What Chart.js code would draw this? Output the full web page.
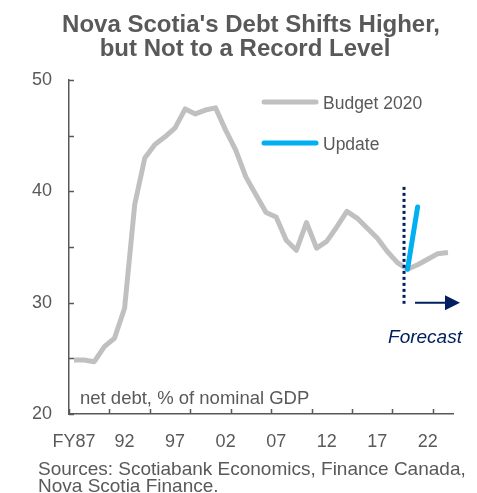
<!DOCTYPE html>
<html>
<head>
<meta charset="utf-8">
<script src="https://cdn.jsdelivr.net/npm/chart.js@4/dist/chart.umd.min.js"></script>
<style>
  html, body { margin: 0; padding: 0; background: #fff; }
  canvas { display: block; }
</style>
</head>
<body>
<canvas id="debtChart" width="477" height="493"></canvas>
<script>
// Fiscal years on the category axis
const fiscalYears = [
  'FY87', 'FY88', 'FY89', 'FY90', 'FY91', 'FY92', 'FY93', 'FY94', 'FY95', 'FY96',
  'FY97', 'FY98', 'FY99', 'FY00', 'FY01', 'FY02', 'FY03', 'FY04', 'FY05', 'FY06',
  'FY07', 'FY08', 'FY09', 'FY10', 'FY11', 'FY12', 'FY13', 'FY14', 'FY15', 'FY16',
  'FY17', 'FY18', 'FY19', 'FY20', 'FY21', 'FY22', 'FY23', 'FY24'
];

// Net debt, % of nominal GDP
const budget2020 = [
  24.85, 24.85, 24.7, 26.05, 26.8, 29.5, 38.8, 43.0, 44.2, 44.9,
  45.7, 47.4, 46.95, 47.3, 47.5, 45.5, 43.7, 41.3, 39.7, 38.1,
  37.7, 35.6, 34.7, 37.2, 34.9, 35.5, 36.8, 38.2, 37.6, 36.7,
  35.8, 34.6, 33.6, 33.0, 33.4, 33.9, 34.4, 34.5
];

const update = [
  null, null, null, null, null, null, null, null, null, null,
  null, null, null, null, null, null, null, null, null, null,
  null, null, null, null, null, null, null, null, null, null,
  null, null, null, 33.0, 38.6, null, null, null
];

const yTicks = [20, 25, 30, 35, 40, 45, 50];
const forecastStart = 'FY20';

const GREY_TEXT = '#595959';
const NAVY = '#002060';
const FONT = '"Liberation Sans", Arial, sans-serif';

const decorPlugin = {
  id: 'decor',
  afterDraw(chart) {
    const { ctx, chartArea } = chart;
    const x = chart.scales.x;
    const y = chart.scales.y;
    ctx.save();

    // inward tick marks
    ctx.strokeStyle = GREY_TEXT;
    ctx.lineWidth = 1.5;
    ctx.beginPath();
    yTicks.forEach(v => {
      const py = Math.round(y.getPixelForValue(v)) + 0.5;
      ctx.moveTo(chartArea.left, py);
      ctx.lineTo(chartArea.left + 5, py);
    });
    const catW = (x.right - x.left) / fiscalYears.length;
    for (let i = 0; i < fiscalYears.length; i += 4) {
      const px = Math.round(x.left + i * catW) + 0.5;
      ctx.moveTo(px, chartArea.bottom);
      ctx.lineTo(px, chartArea.bottom - 5);
    }
    ctx.stroke();

    // title
    ctx.fillStyle = GREY_TEXT;
    ctx.textAlign = 'center';
    ctx.textBaseline = 'alphabetic';
    ctx.font = 'bold 24px ' + FONT;
    ctx.fillText("Nova Scotia's Debt Shifts Higher,", 251, 32);
    ctx.fillText('but Not to a Record Level', 245, 55.5);

    // legend
    const legend = [
      { label: 'Budget 2020', ds: chart.data.datasets[1], y: 102 },
      { label: 'Update', ds: chart.data.datasets[0], y: 143 }
    ];
    ctx.textAlign = 'left';
    ctx.font = '17.5px ' + FONT;
    legend.forEach(item => {
      ctx.strokeStyle = item.ds.borderColor;
      ctx.lineWidth = 5;
      ctx.lineCap = 'round';
      ctx.beginPath();
      ctx.moveTo(264, item.y);
      ctx.lineTo(316, item.y);
      ctx.stroke();
      ctx.fillStyle = GREY_TEXT;
      ctx.fillText(item.label, 323, item.y + 6.5);
    });

    // unit note
    ctx.font = '18.5px ' + FONT;
    ctx.fillText('net debt, % of nominal GDP', 80, 404);

    // sources
    ctx.font = '19px ' + FONT;
    ctx.fillText('Sources: Scotiabank Economics, Finance Canada,', 38, 474.5);
    ctx.fillText('Nova Scotia Finance.', 38, 491.5);

    // forecast divider
    const fx = x.getPixelForValue(fiscalYears.indexOf(forecastStart)) - 3.5;
    ctx.strokeStyle = NAVY;
    ctx.lineWidth = 3;
    ctx.lineCap = 'butt';
    ctx.setLineDash([3, 3]);
    ctx.beginPath();
    ctx.moveTo(fx, y.getPixelForValue(40.4));
    ctx.lineTo(fx, y.getPixelForValue(29.9));
    ctx.stroke();
    ctx.setLineDash([]);

    // arrow
    const ay = y.getPixelForValue(30);
    ctx.lineWidth = 2;
    ctx.beginPath();
    ctx.moveTo(fx + 11, ay);
    ctx.lineTo(fx + 44, ay);
    ctx.stroke();
    ctx.fillStyle = NAVY;
    ctx.beginPath();
    ctx.moveTo(fx + 41, ay - 7.5);
    ctx.lineTo(fx + 56, ay);
    ctx.lineTo(fx + 41, ay + 7.5);
    ctx.closePath();
    ctx.fill();

    ctx.font = 'italic 19px ' + FONT;
    ctx.fillText('Forecast', fx - 16, 343);

    ctx.restore();
  }
};

new Chart(document.getElementById('debtChart'), {
  type: 'line',
  data: {
    labels: fiscalYears,
    datasets: [
      {
        label: 'Update',
        data: update,
        borderColor: '#00B0F0',
        borderWidth: 5,
        borderCapStyle: 'round',
        pointRadius: 0,
        spanGaps: false,
        order: 1
      },
      {
        label: 'Budget 2020',
        data: budget2020,
        borderColor: '#C0C0C0',
        borderWidth: 5,
        borderJoinStyle: 'round',
        pointRadius: 0,
        order: 2
      }
    ]
  },
  options: {
    responsive: false,
    animation: false,
    devicePixelRatio: 1,
    layout: { padding: { top: 80, right: 24, bottom: 39, left: 0 } },
    plugins: {
      legend: { display: false },
      title: { display: false },
      tooltip: { enabled: false }
    },
    scales: {
      x: {
        type: 'category',
        offset: true,
        grid: { display: false, drawTicks: false },
        border: { display: true, color: GREY_TEXT, width: 1.5 },
        ticks: {
          autoSkip: false,
          maxRotation: 0,
          padding: 17,
          color: GREY_TEXT,
          font: { family: FONT, size: 18 },
          callback: function (value, index) {
            if (index % 5 !== 0) return '';
            const lbl = fiscalYears[index];
            return index === 0 ? lbl : lbl.slice(2);
          }
        },
        afterFit: scale => { scale.height = 40; }
      },
      y: {
        min: 20,
        max: 50,
        grid: { display: false, drawTicks: false },
        border: { display: true, color: GREY_TEXT, width: 1.5 },
        ticks: {
          stepSize: 5,
          padding: 17,
          color: GREY_TEXT,
          font: { family: FONT, size: 18 },
          callback: v => (v % 10 === 0 ? v : '')
        },
        afterFit: scale => { scale.width = 69; }
      }
    }
  },
  plugins: [decorPlugin]
});
</script>
</body>
</html>
